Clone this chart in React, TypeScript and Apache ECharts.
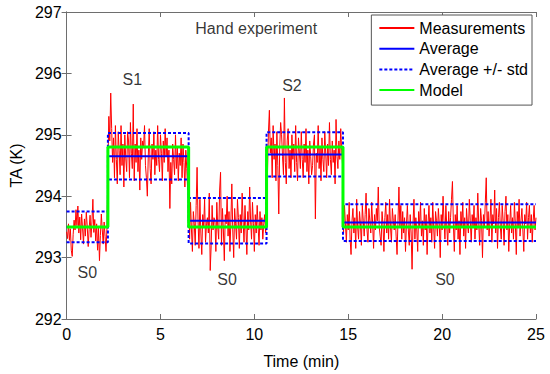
import React, { useEffect, useRef } from "react";
import * as echarts from "echarts";

// Sampling interval of the measurement (minutes)
const SAMPLE_DT = 0.05;

// Measurements (K), by phase
const measS0a = [
  293.42, 293.31, 293.55, 293.28, 293.47, 293.12, 293.02, 293.38, 293.61, 293.45,
  293.78, 293.52, 293.84, 293.4, 293.66, 293.29, 293.71, 293.48, 293.22, 293.63,
  293.35, 293.74, 293.51, 293.18, 293.46, 293.69, 293.33, 293.58, 293.95, 293.41,
  293.62, 293.27, 293.55, 293.12, 293.48, 292.95, 293.36, 293.71, 293.45, 293.22,
  293.58, 293.34, 293.1, 293.48,
];
const measS1 = [
  294.45, 295.3, 294.9, 295.68, 295.1, 294.55, 294.95, 294.3, 295.15, 294.6,
  294.2, 295.05, 294.75, 294.35, 295.15, 294.5, 294.85, 294.15, 295.0, 294.62,
  294.4, 295.05, 294.9, 294.3, 295.2, 294.7, 294.45, 295.5, 294.25, 294.85,
  294.55, 295.1, 294.4, 294.75, 294.1, 294.95, 294.6, 294.9, 294.8, 295.15,
  294.5, 294.3, 294.0, 294.65, 295.1, 294.45, 294.2, 294.85, 294.6, 295.05,
  294.35, 294.75, 294.5, 295.15, 294.6, 294.4, 295.0, 294.7, 294.25, 294.9,
  294.55, 295.1, 294.65, 294.95, 294.4, 294.75, 293.8, 294.55, 294.2, 294.85,
  294.6, 294.35, 295.0, 294.45, 294.8, 294.25, 294.7, 294.5, 294.95, 294.3,
  294.85, 294.55, 294.15, 294.75, 294.45, 294.1, 294.6,
];
const measS0b = [
  293.3, 293.9, 293.45, 293.1, 293.75, 293.55, 293.2, 293.85, 294.47, 293.6,
  293.15, 293.95, 293.4, 293.05, 293.7, 293.5, 293.95, 293.25, 293.55, 293.65,
  293.4, 294.05, 292.79, 293.2, 293.85, 293.45, 293.65, 293.6, 293.1, 293.9,
  293.5, 293.3, 294.1, 294.39, 293.2, 293.8, 293.45, 292.95, 293.7, 293.55,
  294.0, 293.35, 293.75, 293.1, 293.6, 294.2, 293.45, 293.0, 293.8, 293.55,
  293.3, 293.95, 293.65, 293.15, 293.7, 293.4, 294.05, 293.6, 293.25, 293.85,
  293.5, 293.05, 293.75, 293.45, 294.15, 293.6, 293.3, 293.9, 293.55, 293.1,
  293.7, 293.4, 293.85, 293.5, 293.2, 293.75, 293.45, 293.65, 293.3, 293.55,
  293.7, 293.4, 293.6,
];
const measS2 = [
  294.4, 295.05, 295.4, 294.7, 294.95, 294.3, 295.15, 294.6, 294.85, 294.25,
  295.05, 294.5, 293.71, 294.8, 295.2, 295.0, 294.65, 294.35, 295.6, 294.55,
  294.2, 294.9, 295.1, 294.45, 294.75, 294.3, 295.0, 294.6, 294.85, 294.4,
  295.15, 294.55, 294.25, 294.95, 294.7, 294.45, 295.05, 294.6, 294.3, 294.85,
  294.55, 295.1, 294.4, 294.75, 294.2, 294.9, 294.65, 294.35, 294.5, 294.85,
  295.0, 293.63, 294.7, 294.55, 295.15, 294.45, 294.8, 294.25, 294.95, 294.6,
  294.4, 295.05, 294.7, 294.3, 294.85, 294.5, 295.2, 294.6, 294.35, 294.9,
  294.55, 294.75, 294.2, 295.25, 294.65, 294.45, 294.9, 294.6, 295.1, 294.75,
  294.5,
];
const measS0c = [
  293.4, 293.85, 293.55, 293.25, 293.7, 293.45, 293.9, 293.3, 293.05, 293.6,
  293.8, 293.4, 293.65, 293.15, 293.95, 293.5, 293.3, 293.75, 293.55, 293.2,
  293.85, 293.6, 293.35, 293.7, 294.05, 293.45, 293.25, 293.8, 293.6, 293.4,
  293.9, 293.55, 293.15, 293.7, 293.45, 293.8, 293.6, 294.15, 293.5, 293.35,
  293.2, 293.75, 293.55, 293.1, 293.65, 293.9, 293.4, 293.7, 293.3, 293.95,
  293.5, 293.25, 293.8, 293.6, 293.45, 293.7, 293.35, 293.05, 293.6, 294.15,
  293.5, 293.85, 293.3, 293.75, 293.4, 293.65, 293.1, 293.55, 293.85, 293.45,
  293.2, 293.7, 293.4, 292.81, 293.55, 293.95, 293.3, 293.65, 293.45, 293.1,
  293.75, 293.5, 293.9, 293.35, 293.6, 293.2, 293.8, 293.45, 293.7, 293.05,
  293.55, 293.85, 293.4, 293.65, 293.25, 293.9, 293.5, 293.15, 293.75, 293.6,
  293.35, 293.8, 293.55, 293.0, 293.7, 293.45, 294.0, 293.6, 293.3, 293.85,
  293.5, 293.2, 293.75, 293.4, 293.65, 293.95, 294.24, 293.55, 293.1, 293.7,
  293.45, 293.85, 293.3, 293.6, 293.05, 293.75, 293.5, 293.9, 293.35, 293.65,
  293.15, 293.8, 293.55, 293.4, 293.95, 293.6, 293.25, 293.7, 293.5, 293.85,
  293.3, 293.65, 293.45, 294.05, 293.55, 293.2, 293.8, 293.6, 293.0, 293.7,
  293.5, 293.9, 294.3, 293.45, 293.75, 293.35, 293.6, 293.95, 293.25, 293.7,
  293.55, 294.1, 293.4, 293.8, 293.15, 293.65, 293.9, 293.5, 293.3, 293.85,
  293.6, 293.2, 293.75, 294.0, 293.45, 293.7, 293.1, 293.55, 293.85, 293.4,
  293.65, 293.3, 293.9, 293.55, 293.05, 293.75, 293.5, 293.95, 293.35, 293.6,
  293.8, 293.45, 293.1, 293.7, 293.55, 293.9, 293.3, 293.65, 293.85, 293.4,
  293.7, 293.25, 293.6, 293.85, 293.45, 293.65,
];

// Phases (minutes)
const phaseStart = [0, 2.2, 6.5, 10.65, 14.72];
const phaseEnd = [2.2, 6.5, 10.65, 14.72, 25];
const phaseModel = [293.5, 294.8, 293.5, 294.8, 293.5];
const phaseAverage = [293.5, 294.65, 293.6, 294.68, 293.57];
const phaseStd = [0.25, 0.38, 0.37, 0.36, 0.3];

// Annotations
const noteText = ["Hand experiment", "S1", "S2", "S0", "S0", "S0"];
const noteX = [10.1, 3.5, 12.0, 1.1, 8.55, 20.15];
const noteY = [296.73, 295.9, 295.81, 292.75, 292.64, 292.65];

// Axes
const xMin = 0, xMax = 25, xStep = 5;
const yMin = 292, yMax = 297, yStep = 1;

const FONT = "'Liberation Sans', Arial, Helvetica, sans-serif";

function stepLine(values: number[]): number[][] {
  const pts: number[][] = [];
  for (let i = 0; i < values.length; i++) {
    pts.push([phaseStart[i], values[i]]);
    pts.push([phaseEnd[i], values[i]]);
  }
  return pts;
}

export default function App() {
  const ref = useRef<HTMLDivElement>(null);
  useEffect(() => {
    if (!ref.current) return;
    document.body.style.margin = "0";
    const chart = echarts.init(ref.current, undefined, { renderer: "svg" });
    const allMeas = [...measS0a, ...measS1, ...measS0b, ...measS2, ...measS0c];
    const measData = allMeas.map((v, i) => [+(i * SAMPLE_DT).toFixed(2), v]);
    const upper = phaseAverage.map((a, i) => +(a + phaseStd[i]).toFixed(3));
    const lower = phaseAverage.map((a, i) => +(a - phaseStd[i]).toFixed(3));
    const stdData = [...stepLine(upper), [null, null] as any, ...stepLine(lower)];
    const axisColor = "#6e6e6e";
    const xAxisBase = {
      type: "value" as const,
      min: xMin,
      max: xMax,
      interval: xStep,
      splitLine: { show: false },
      axisLine: { show: true, lineStyle: { color: axisColor, width: 1 } },
      axisTick: { show: true, inside: true, length: 5, lineStyle: { color: axisColor } },
    };
    const yAxisBase = {
      type: "value" as const,
      min: yMin,
      max: yMax,
      interval: yStep,
      splitLine: { show: false },
      axisLine: { show: true, lineStyle: { color: axisColor, width: 1 } },
      axisTick: { show: true, inside: true, length: 5, lineStyle: { color: axisColor } },
    };
    chart.setOption({
      animation: false,
      backgroundColor: "#ffffff",
      textStyle: { fontFamily: FONT },
      grid: { left: 61, right: 14, top: 12, bottom: 46, containLabel: false },
      xAxis: [
        {
          ...xAxisBase,
          position: "bottom",
          name: "Time (min)",
          nameLocation: "middle",
          nameGap: 34,
          nameTextStyle: { fontSize: 16, color: "#000", fontFamily: FONT },
          axisLabel: { fontSize: 16, color: "#000", margin: 7, fontFamily: FONT },
        },
        { ...xAxisBase, position: "top", axisLabel: { show: false } },
      ],
      yAxis: [
        {
          ...yAxisBase,
          position: "left",
          name: "TA (K)",
          nameLocation: "middle",
          nameGap: 37,
          nameTextStyle: { fontSize: 16, color: "#000", fontFamily: FONT },
          axisLabel: { fontSize: 16, color: "#000", margin: 5, fontFamily: FONT },
        },
        { ...yAxisBase, position: "right", axisLabel: { show: false } },
      ],
      legend: {
        data: ["Measurements", "Average", "Average +/- std", "Model"],
        orient: "vertical",
        right: 18,
        top: 15,
        padding: [5, 4, 7, 7],
        itemWidth: 35,
        itemHeight: 16,
        itemGap: 4.7,
        backgroundColor: "#ffffff",
        borderColor: "#555555",
        borderWidth: 1,
        borderRadius: 0,
        itemStyle: { opacity: 0 },
        textStyle: { fontSize: 16, color: "#000", fontFamily: FONT, lineHeight: 16 },
      },
      series: [
        {
          name: "Measurements",
          type: "line",
          data: measData,
          symbol: "none",
          lineStyle: { color: "#ff0000", width: 1 },
          itemStyle: { color: "#ff0000" },
          z: 2,
        },
        {
          name: "Average",
          type: "line",
          data: stepLine(phaseAverage),
          symbol: "none",
          lineStyle: { color: "#0000ff", width: 2 },
          itemStyle: { color: "#0000ff" },
          z: 3,
        },
        {
          name: "Average +/- std",
          type: "line",
          data: stdData,
          connectNulls: false,
          symbol: "none",
          lineStyle: { color: "#0000ff", width: 2, type: [3, 2] },
          itemStyle: { color: "#0000ff" },
          z: 4,
        },
        {
          name: "Model",
          type: "line",
          data: stepLine(phaseModel),
          symbol: "none",
          lineStyle: { color: "#00ff00", width: 3 },
          itemStyle: { color: "#00ff00" },
          z: 5,
        },
        {
          name: "notes",
          type: "scatter",
          silent: true,
          symbolSize: 0,
          data: noteText.map((t, i) => ({ name: t, value: [noteX[i], noteY[i]] })),
          label: {
            show: true,
            position: "inside",
            formatter: (p: any) => p.name,
            fontSize: 16,
            color: "#000",
            fontFamily: FONT,
          },
          z: 6,
        },
      ],
    });
    return () => chart.dispose();
  }, []);
  return (
    <div
      ref={ref}
      style={{ position: "absolute", left: 0, top: 0, width: 550, height: 374 }}
    />
  );
}
